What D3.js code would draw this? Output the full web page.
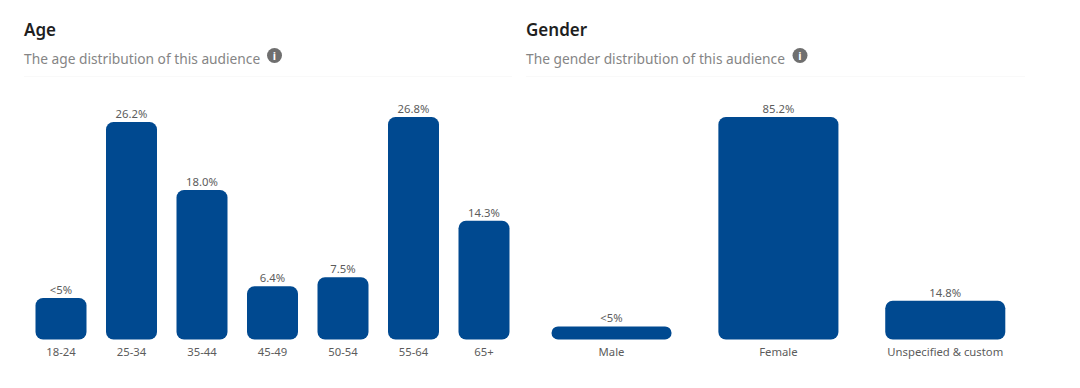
<!DOCTYPE html>
<html>
<head>
<meta charset="utf-8">
<script src="https://cdn.jsdelivr.net/npm/d3@7"></script>
<style>
    body { margin: 0; background: #fff; }
    svg { display: block; }
    text { font-family: "Noto Sans", "Open Sans", sans-serif; }
</style>
</head>
<body>
<div id="chart"></div>
<script>
    // Données
    const ageCategories = ["18-24", "25-34", "35-44", "45-49", "50-54", "55-64", "65+"];
    const ageValues = [5, 26.2, 18.0, 6.4, 7.5, 26.8, 14.3];
    const ageLabels = ["<5%", "26.2%", "18.0%", "6.4%", "7.5%", "26.8%", "14.3%"];

    const genderCategories = ["Male", "Female", "Unspecified & custom"];
    const genderValues = [5, 85.2, 14.8];
    const genderLabels = ["<5%", "85.2%", "14.8%"];

    const svg = d3.select("#chart")
        .append("svg")
        .attr("width", 1080)
        .attr("height", 388);

    const baseline = 339.5, plotTop = 117;

    function panel(opts) {
        const g = svg.append("g");

        g.append("text")
            .text(opts.title)
            .attr("x", opts.left)
            .attr("y", 36)
            .style("font-size", "17px")
            .style("font-weight", 600)
            .style("fill", "#1f1f1f");

        g.append("text")
            .text(opts.subtitle)
            .attr("x", opts.left)
            .attr("y", 64)
            .style("font-size", "13.75px")
            .style("fill", "#858585");

        // icone info
        g.append("circle")
            .attr("cx", opts.icon)
            .attr("cy", 55.5)
            .attr("r", 7.5)
            .style("fill", "#6f6f6f");
        g.append("text")
            .text("i")
            .attr("x", opts.icon)
            .attr("y", 59.5)
            .attr("text-anchor", "middle")
            .style("font-size", "11px")
            .style("font-weight", 700)
            .style("fill", "#fff");

        // séparateur
        g.append("line")
            .attr("x1", opts.left)
            .attr("x2", opts.ruleEnd)
            .attr("y1", 76.5)
            .attr("y2", 76.5)
            .style("stroke", "#f9f9f9");

        // échelles
        const x = d3.scaleBand()
            .domain(opts.categories)
            .range(opts.range)
            .paddingInner(opts.padding);

        const y = d3.scaleLinear()
            .domain([0, d3.max(opts.values)])
            .range([baseline, plotTop]);

        const axis = g.append("g")
            .attr("transform", "translate(0," + baseline + ")")
            .call(d3.axisBottom(x).tickSize(0).tickPadding(8));
        axis.select(".domain").remove();
        axis.selectAll("text")
            .style("font-size", "11.3px")
            .style("font-family", '"Noto Sans", sans-serif')
            .style("fill", "#5c5c5c");

        g.append("g")
            .selectAll("rect")
            .data(opts.values)
            .enter()
            .append("rect")
            .attr("x", (d, i) => x(opts.categories[i]))
            .attr("y", d => y(d))
            .attr("width", x.bandwidth())
            .attr("height", d => baseline - y(d))
            .attr("rx", d => Math.min(7.5, (baseline - y(d)) / 2))
            .style("fill", "#004990");

        g.append("g")
            .selectAll("text")
            .data(opts.labels)
            .enter()
            .append("text")
            .text(d => d)
            .attr("x", (d, i) => x(opts.categories[i]) + x.bandwidth() / 2)
            .attr("y", (d, i) => y(opts.values[i]) - 4)
            .attr("text-anchor", "middle")
            .style("font-size", "11.3px")
            .style("fill", "#5c5c5c");
    }

    panel({
        title: "Age",
        subtitle: "The age distribution of this audience",
        left: 24,
        icon: 274.5,
        ruleEnd: 512,
        categories: ageCategories,
        values: ageValues,
        labels: ageLabels,
        range: [35.5, 509.5],
        padding: 0.2766
    });

    panel({
        title: "Gender",
        subtitle: "The gender distribution of this audience",
        left: 526,
        icon: 800,
        ruleEnd: 1025,
        categories: genderCategories,
        values: genderValues,
        labels: genderLabels,
        range: [551.5, 1005.3],
        padding: 0.2805
    });
</script>
</body>
</html>
